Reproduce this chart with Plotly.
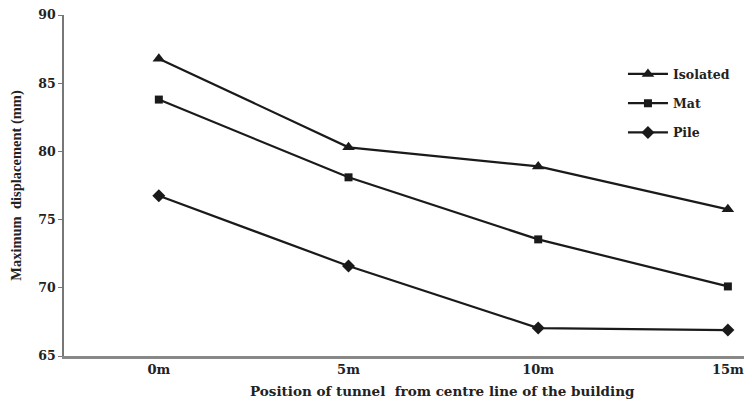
import plotly.graph_objects as go

categories = ["0m", "5m", "10m", "15m"]
isolated = [86.8, 80.3, 78.9, 75.75]
mat = [83.8, 78.1, 73.55, 70.1]
pile = [76.75, 71.6, 67.05, 66.9]
y_ticks = [65, 70, 75, 80, 85, 90]

xs = list(range(len(categories)))
wide = "DejaVu Serif, serif"
narrow = "Liberation Serif, Times New Roman, serif"
ink = "#1a1a1a"
txt = "#222"

fig = go.Figure()
series = [("Isolated", isolated, "triangle-up", 11),
          ("Mat", mat, "square", 8),
          ("Pile", pile, "diamond", 10)]
for i, (name, vals, sym, sz) in enumerate(series):
    fig.add_trace(go.Scatter(
        x=xs, y=vals, name=name, mode="lines+markers",
        line=dict(color=ink, width=2.2),
        marker=dict(symbol=sym, size=sz, color=ink),
        legendgroup=f"g{i}",
    ))

# x-axis title, centred as in the source (off the visible plot centre)
fig.add_annotation(
    text="Position of tunnel  from centre line of the building",
    xref="paper", yref="paper", x=0.556, y=0, yshift=-35,
    xanchor="center", yanchor="middle", showarrow=False,
    font=dict(family=wide, size=13.5, color=txt, weight="bold"),
)

# page body has an 8px margin; figure size and margins compensate for it
fig.update_layout(
    width=744, height=392,
    margin=dict(l=56, r=8, t=7, b=44),
    paper_bgcolor="white", plot_bgcolor="white",
    font=dict(family=wide, size=13, color=txt, weight="bold"),
    showlegend=True,
    legend=dict(x=0.822, y=0.87, xanchor="left", yanchor="top",
                bgcolor="rgba(0,0,0,0)", tracegroupgap=10, itemwidth=40,
                font=dict(family=wide, size=12.5, color=txt, weight="bold")),
    xaxis=dict(range=[-0.5, 3.085], tickmode="array", tickvals=xs,
               ticktext=categories, showgrid=False, zeroline=False,
               showline=True, linecolor="#888", linewidth=2.5,
               ticks="", tickfont=dict(family=wide, size=13, weight="bold"),
               ticklabeloverflow="allow", automargin=False),
    yaxis=dict(range=[65, 90], tickvals=y_ticks, showgrid=False,
               zeroline=False, showline=True, linecolor="#777", linewidth=1.5,
               ticks="outside", ticklen=4, tickcolor="#777",
               tickfont=dict(family=wide, size=12.5, weight="bold"),
               ticklabeloverflow="allow", automargin=False,
               title=dict(text="Maximum  displacement (mm)",
                          font=dict(family=narrow, size=14.5, weight="bold"), standoff=18)),
)

fig.write_html("out.html")
